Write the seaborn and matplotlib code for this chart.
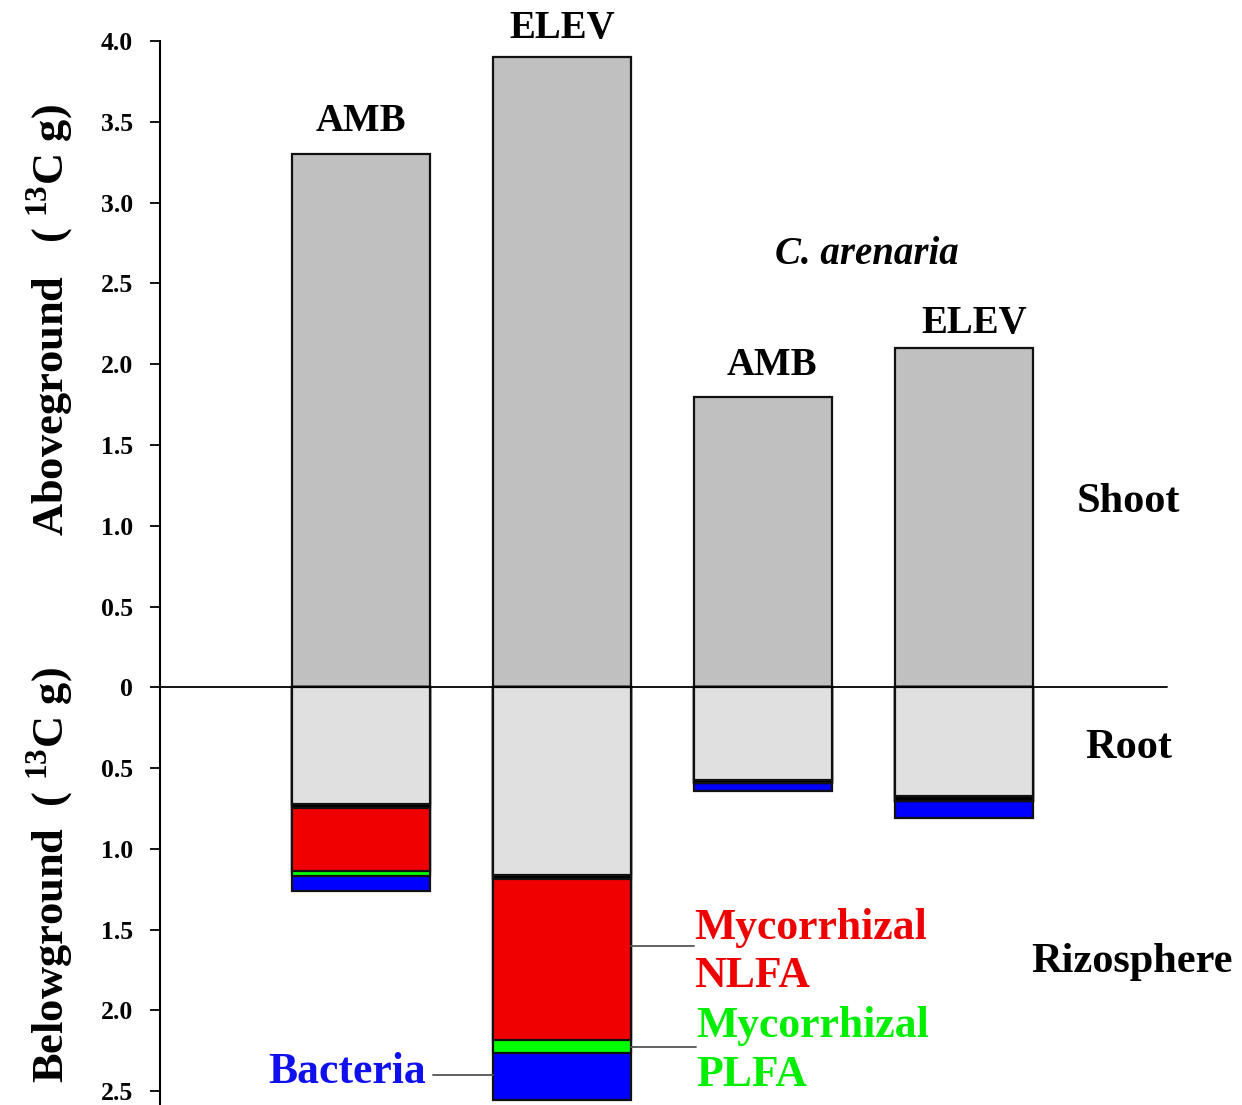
import matplotlib
matplotlib.use("Agg")
import matplotlib.pyplot as plt
import seaborn as sns
import pandas as pd
import numpy as np

# ---------------- data ----------------
groups = ["sp1 AMB", "sp1 ELEV", "C. arenaria AMB", "C. arenaria ELEV"]
treatments = ["AMB", "ELEV", "AMB", "ELEV"]
shoot = [3.30, 3.90, 1.80, 2.10]
root = [0.72, 1.165, 0.575, 0.675]
dark_band = [0.025, 0.02, 0.015, 0.03]
myc_nlfa = [0.39, 1.00, 0.0, 0.0]
myc_plfa = [0.035, 0.08, 0.0, 0.0]
bacteria = [0.09, 0.29, 0.055, 0.105]
pos_ticks = [0.5, 1.0, 1.5, 2.0, 2.5, 3.0, 3.5, 4.0]
neg_ticks = [0.5, 1.0, 1.5, 2.0, 2.5]

df = pd.DataFrame({"group": groups, "shoot": shoot, "root": root,
                   "dark": dark_band, "nlfa": myc_nlfa, "plfa": myc_plfa,
                   "bact": bacteria})
# cumulative belowground depths (negative direction)
df["c_root"] = -df["root"]
df["c_dark"] = df["c_root"] - df["dark"]
df["c_nlfa"] = df["c_dark"] - df["nlfa"]
df["c_plfa"] = df["c_nlfa"] - df["plfa"]
df["c_bact"] = df["c_plfa"] - df["bact"]

# ---------------- style ----------------
sns.set_theme(style="white")
plt.rcParams["font.family"] = ["Liberation Serif", "DejaVu Serif"]
plt.rcParams["font.weight"] = "bold"
plt.rcParams["text.color"] = "black"
plt.rcParams["axes.labelcolor"] = "black"
plt.rcParams["ytick.color"] = "black"
plt.rcParams["xtick.color"] = "black"
plt.rcParams["mathtext.fontset"] = "custom"
plt.rcParams["mathtext.rm"] = "Liberation Serif:bold"
plt.rcParams["mathtext.bf"] = "Liberation Serif:bold"

fig = plt.figure(figsize=(12.42, 11.05), dpi=100)
ax = fig.add_axes([160 / 1242, -0.002, 1075 / 1242, 1066 / 1105])

W = 0.687
EC = "#111111"
LW = 1.6
common = dict(x="group", order=groups, width=W, edgecolor=EC,
              linewidth=LW, saturation=1, ax=ax, errorbar=None)

sns.barplot(data=df, y="shoot", color="#c0c0c0", **common)
sns.barplot(data=df, y="c_bact", color="#0000ff", **common)
sns.barplot(data=df, y="c_plfa", color="#00ff00", **common)
sns.barplot(data=df, y="c_nlfa", color="#f00000", **common)
sns.barplot(data=df, y="c_dark", color="#000000", **common)
sns.barplot(data=df, y="c_root", color="#e0e0e0", **common)

ax.set_xlim(-1.0, 4.35)
ax.set_ylim(-2.6, 4.0)
ax.plot([-1.0, 4.01], [0, 0], color="black", lw=1.3, zorder=5)

ticks = [-t for t in neg_ticks[::-1]] + [0] + pos_ticks
labels = [f"{t:.1f}" for t in neg_ticks[::-1]] + ["0"] + [f"{t:.1f}" for t in pos_ticks]
ax.set_yticks(ticks)
ax.set_yticklabels(labels, fontsize=18.5, fontweight="bold", color="black")
ax.set_xticks([])
ax.set_xlabel("")
ax.set_ylabel("")
for s in ["top", "right", "bottom"]:
    ax.spines[s].set_visible(False)
ax.spines["left"].set_linewidth(1.5)
ax.spines["left"].set_color("black")
ax.tick_params(axis="y", direction="out", length=7.5, width=1.3, pad=12,
               left=True, colors="black")

# treatment labels above bars
lab_x = [0.0, 0.0, 0.045, 0.05]
lab_y = [3.50, 4.08, 1.99, 2.25]
for i, (t, dx, y) in enumerate(zip(treatments, lab_x, lab_y)):
    ax.text(i + dx, y, t, ha="center", va="center", fontsize=28,
            fontweight="bold", clip_on=False)

ax.text(2.52, 2.68, "C. arenaria", ha="center", va="center", fontsize=28,
        fontweight="bold", style="italic")
ax.text(3.82, 1.145, "Shoot", ha="center", va="center", fontsize=30.5, fontweight="bold")
ax.text(3.82, -0.375, "Root", ha="center", va="center", fontsize=30.5, fontweight="bold")
ax.text(3.835, -1.70, "Rizosphere", ha="center", va="center", fontsize=30.5,
        fontweight="bold", clip_on=False)

# annotation lines + labels
line_kw = dict(color="#555555", lw=1.3)
ax.plot([1 + W / 2, 1.66], [-1.60, -1.60], **line_kw)
ax.text(1.66, -1.49, "Mycorrhizal", color="#ee0000", ha="left", va="center",
        fontsize=31.5, fontweight="bold")
ax.text(1.66, -1.79, "NLFA", color="#ee0000", ha="left", va="center",
        fontsize=31.5, fontweight="bold")
ax.plot([1 + W / 2, 1.67], [-2.23, -2.23], **line_kw)
ax.text(1.67, -2.10, "Mycorrhizal", color="#00ee00", ha="left", va="center",
        fontsize=31.5, fontweight="bold")
ax.text(1.67, -2.40, "PLFA", color="#00ee00", ha="left", va="center",
        fontsize=31.5, fontweight="bold", clip_on=False)
ax.plot([0.36, 1 - W / 2], [-2.40, -2.40], **line_kw)
ax.text(-0.07, -2.38, "Bacteria", color="#1010ee", ha="center", va="center",
        fontsize=31.5, fontweight="bold")

# y-axis titles
fig.text(0.0403, 0.7104, r"Aboveground   ( $^{13}$C g)", rotation=90,
         ha="center", va="center", fontsize=32, fontweight="bold")
fig.text(0.0403, 0.2081, r"Belowground  ( $^{13}$C g)", rotation=90,
         ha="center", va="center", fontsize=32, fontweight="bold")

fig.savefig("out.png", dpi=100)
